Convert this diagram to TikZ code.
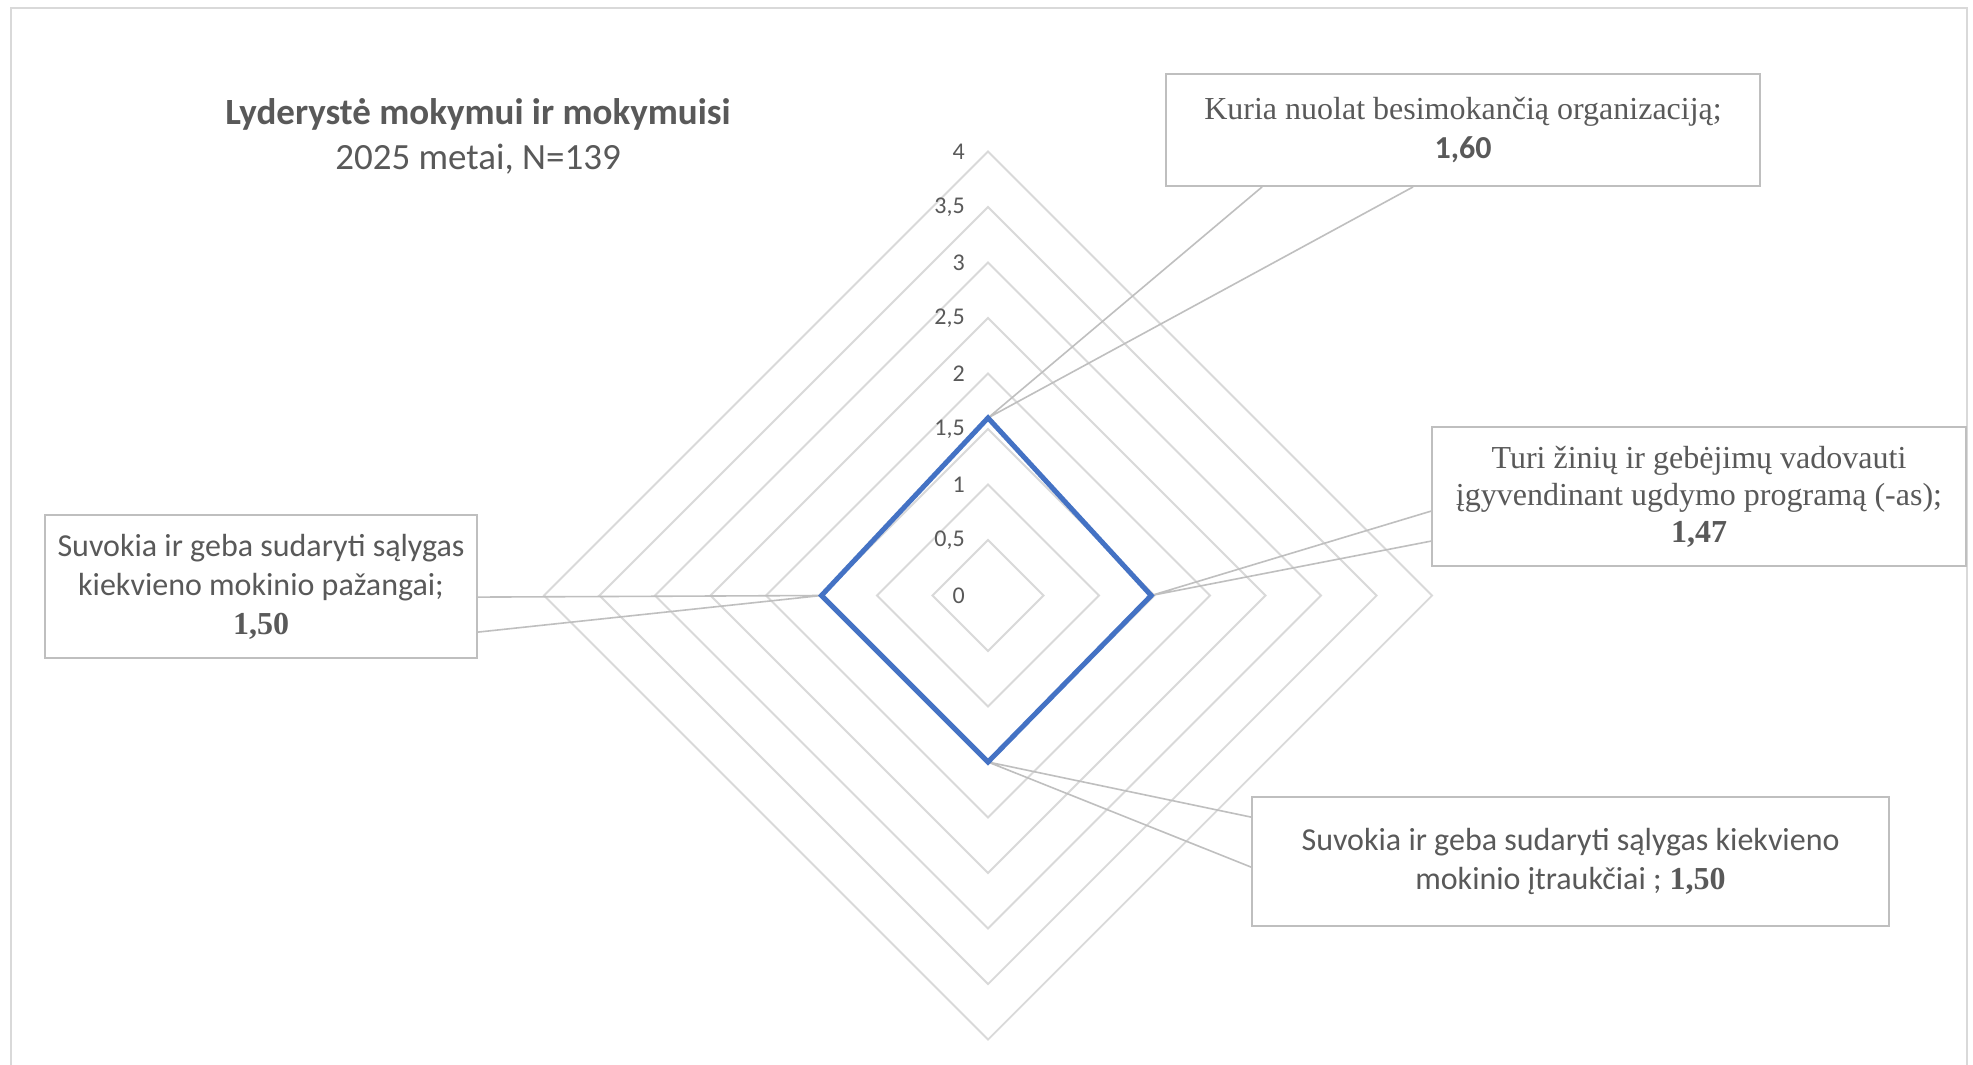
\documentclass[tikz,border=0pt]{standalone}
\usepackage{fontspec}
\setmainfont{Liberation Serif}
\newfontfamily\carl{Carlito}
\usetikzlibrary{calc}
\definecolor{txtgray}{HTML}{595959}
\definecolor{gridgray}{HTML}{D9D9D9}
\definecolor{boxgray}{HTML}{BFBFBF}
\definecolor{leadgray}{HTML}{BFBFBF}
\definecolor{serblue}{HTML}{4472C4}
\tikzset{
  gridline/.style={draw=gridgray, line width=1.8pt},
  axislbl/.style={anchor=east, text=txtgray, font=\carl\fontsize{24}{26}\selectfont, inner sep=0pt},
  callout/.style={draw=boxgray, fill=white, line width=1.8pt, align=center, text=txtgray, inner sep=0pt,
    font=\fontsize{32}{39}\selectfont},
  leader/.style={draw=leadgray, line width=1.6pt},
  series/.style={draw=serblue, line width=5pt, line join=miter},
}
\begin{document}
\begin{tikzpicture}[x=1pt,y=-1pt]
\useasboundingbox (0,0) rectangle (1973,1065);
\fill[white] (0,0) rectangle (1973,1065);
\draw[draw=gridgray, line width=1.5pt] (11,8) rectangle (1967,1090);
% title
\node[text=txtgray, font=\carl\bfseries\fontsize{37}{42}\selectfont] (title) at (478,114) {Lyderystė mokymui ir mokymuisi};
\node[text=txtgray, font=\carl\fontsize{37}{42}\selectfont] (subtitle) at (478,159) {2025 metai, N=139};
% grid
\coordinate (c) at (988,595.5);
\foreach \k in {1,...,8} {
  \draw[gridline] ($(c)+(0,-55.5*\k)$) -- ($(c)+(55.5*\k,0)$) -- ($(c)+(0,55.5*\k)$) -- ($(c)+(-55.5*\k,0)$) -- cycle;
}
\foreach \k/\t in {0/0,1/{0,5},2/1,3/{1,5},4/2,5/{2,5},6/3,7/{3,5},8/4} {
  \node[axislbl] (ax\k) at ($(965,595.5)+(0,-55.5*\k)$) {\t};
}
% data points
\coordinate (pT) at ($(c)+(0,-177.6)$);
\coordinate (pR) at ($(c)+(163.2,0)$);
\coordinate (pB) at ($(c)+(0,166.5)$);
\coordinate (pL) at ($(c)+(-166.5,0)$);
\path (1463,130) coordinate (b1c) (1699,496.5) coordinate (b2c) (261,586.5) coordinate (b3c) (1570.5,861.5) coordinate (b4c);
% callouts
\node[callout, minimum width=594pt, minimum height=112pt] (b1) at (b1c)
  {Kuria nuolat besimokančią organizaciją;\\{\carl\bfseries 1,60}};
\node[callout, minimum width=534pt, minimum height=139pt] (b2) at (b2c)
  {Turi žinių ir gebėjimų vadovauti\\[-2pt]įgyvendinant ugdymo programą (-as);\\[-2pt]\textbf{1,47}};
\node[callout, minimum width=432pt, minimum height=143pt] (b3) at (b3c)
  {{\carl Suvokia ir geba sudaryti sąlygas}\\{\carl kiekvieno mokinio pažangai;}\\\textbf{1,50}};
\node[callout, minimum width=637pt, minimum height=129pt] (b4) at (b4c)
  {{\carl Suvokia ir geba sudaryti sąlygas kiekvieno}\\{\carl mokinio įtraukčiai ;} \textbf{1,50}};
\draw[leader] ($(b1.south west)+(97,0)$) -- (pT) -- ($(b1.south west)+(248,0)$);
\draw[leader] ($(b2.north west)+(0,85)$) -- (pR) -- ($(b2.north west)+(0,115)$);
\draw[leader] ($(b3.north east)+(0,83)$) -- (pL) -- ($(b3.north east)+(0,118)$);
\draw[leader] ($(b4.north west)+(0,21)$) -- (pB) -- ($(b4.north west)+(0,71)$);
% series
\draw[series] (pT) -- (pR) -- (pB) -- (pL) -- cycle;
\end{tikzpicture}
\end{document}
